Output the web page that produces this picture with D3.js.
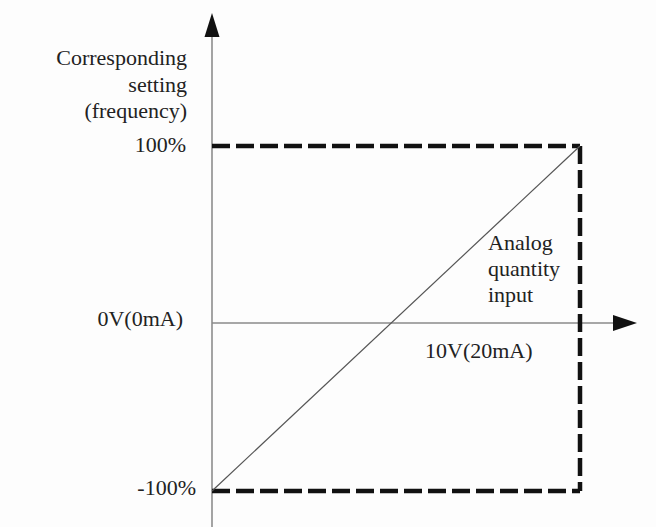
<!DOCTYPE html>
<html>
<head>
<meta charset="utf-8">
<script src="https://cdn.jsdelivr.net/npm/d3@7/dist/d3.min.js"></script>
<style>
  html, body { margin: 0; padding: 0; background: #fdfdfd; }
  svg { display: block; }
  text { font-family: "Liberation Serif", "Times New Roman", serif; fill: #222; }
</style>
</head>
<body>
<svg id="chart" width="656" height="527"></svg>
<script>
// ---- data ----
const inputRange = [0, 10];            // analog input, V (0..10V / 0..20mA)
const settingRange = [-100, 100];      // corresponding setting, %
const lineInput = [0, 10];
const lineSetting = [-100, 100];
const axisLevel = -2.6;                // level of the horizontal axis (drawn slightly below centre)
const yTickValues = [100, axisLevel, -100];
const yTickLabels = ["100%", "0V(0mA)", "-100%"];
const yTitleLines = ["Corresponding", "setting", "(frequency)"];
const curveLabelLines = ["Analog", "quantity", "input"];
const xEndLabel = "10V(20mA)";

// ---- layout ----
const svg = d3.select("#chart");
const x = d3.scaleLinear().domain(inputRange).range([212, 580]);
const y = d3.scaleLinear().domain(settingRange).range([491, 146]);
const fs = 22;

const g = svg.append("g");

// vertical axis
g.append("line")
  .attr("x1", x(0)).attr("x2", x(0))
  .attr("y1", 527).attr("y2", 36)
  .attr("stroke", "#9a9a9a").attr("stroke-width", 1.8);
g.append("path")
  .attr("d", `M${x(0)},13 L${x(0) + 7.5},37 L${x(0) - 7.5},37 Z`)
  .attr("fill", "#111");

// horizontal axis
g.append("line")
  .attr("x1", x(0)).attr("x2", 615)
  .attr("y1", y(axisLevel)).attr("y2", y(axisLevel))
  .attr("stroke", "#8a8a8a").attr("stroke-width", 1.6);
g.append("path")
  .attr("d", `M637,${y(axisLevel)} L613,${y(axisLevel) - 8} L613,${y(axisLevel) + 8} Z`)
  .attr("fill", "#111");

// dashed limit box
const dash = "18,6";
const box = [
  [[0, 100], [10, 100]],
  [[10, 100], [10, -100]],
  [[0, -100], [10, -100]]
];
g.selectAll("line.box").data(box).enter().append("line")
  .attr("class", "box")
  .attr("x1", d => x(d[0][0])).attr("y1", d => y(d[0][1]))
  .attr("x2", d => x(d[1][0])).attr("y2", d => y(d[1][1]))
  .attr("stroke", "#111").attr("stroke-width", 4.5)
  .attr("stroke-dasharray", dash);

// characteristic line
const pts = lineInput.map((v, i) => [v, lineSetting[i]]);
g.append("path")
  .datum(pts)
  .attr("d", d3.line().x(d => x(d[0])).y(d => y(d[1])))
  .attr("fill", "none").attr("stroke", "#555").attr("stroke-width", 1.2);

// y tick labels
const tickPos = [
  { right: 186, dy: 6 },
  { right: 183, dy: 3 },
  { right: 196, dy: 4 }
];
g.selectAll("text.ytick").data(yTickValues).enter().append("text")
  .attr("class", "ytick")
  .attr("x", (d, i) => tickPos[i].right)
  .attr("y", (d, i) => y(d) + tickPos[i].dy)
  .attr("text-anchor", "end")
  .attr("font-size", fs)
  .text((d, i) => yTickLabels[i]);

// y title
g.selectAll("text.ytitle").data(yTitleLines).enter().append("text")
  .attr("class", "ytitle")
  .attr("x", 187)
  .attr("y", (d, i) => 65 + i * 26.5)
  .attr("text-anchor", "end")
  .attr("font-size", fs)
  .text(d => d);

// curve label
g.selectAll("text.clabel").data(curveLabelLines).enter().append("text")
  .attr("class", "clabel")
  .attr("x", 488)
  .attr("y", (d, i) => 250 + i * 26)
  .attr("font-size", fs)
  .text(d => d);

// x end label
g.append("text")
  .attr("x", 425)
  .attr("y", 358)
  .attr("font-size", fs)
  .text(xEndLabel);
</script>
</body>
</html>
